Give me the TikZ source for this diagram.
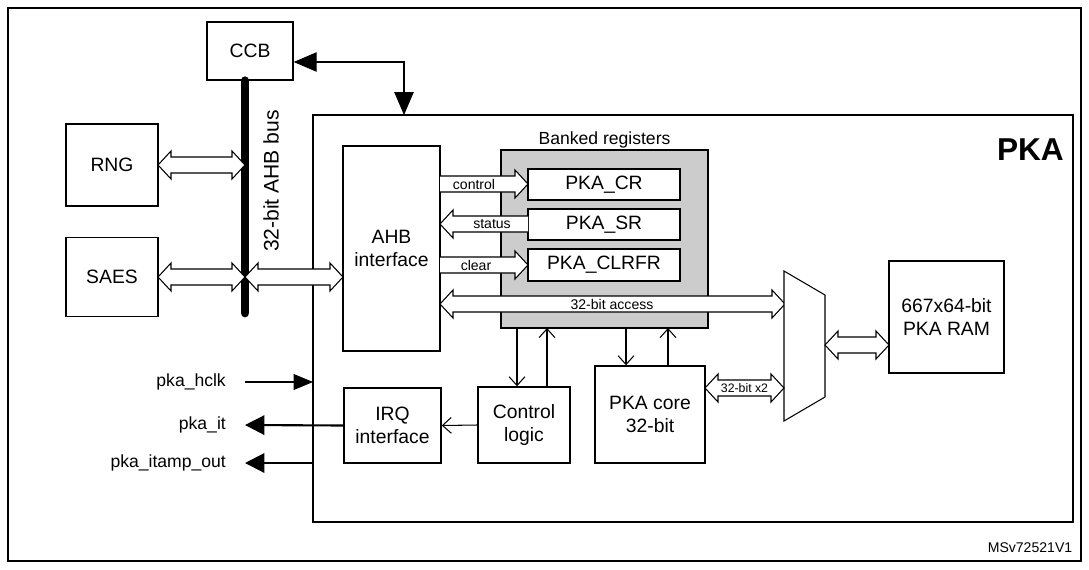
\documentclass[tikz,border=0pt]{standalone}
\usepackage{fontspec}
\setmainfont{Liberation Sans}
\usetikzlibrary{arrows.meta}
\tikzset{blk/.style={draw, thick, fill=white, align=center, inner sep=0pt, font=\fontsize{11}{13}\selectfont}}
\tikzset{l/.style={font=\fontsize{8}{9}\selectfont}}
\tikzset{sig/.style={font=\fontsize{10}{12}\selectfont}}
\tikzset{thin arrow/.style={-{Straight Barb[length=5pt,width=9pt]}, semithick}}
\tikzset{bold arrow/.style={-{Triangle[length=11pt,width=11pt]}, very thick}}
% hollow double arrow: x1, x2, y
\newcommand{\dblarrow}[3]{\draw[semithick, fill=white] (#1,#3) -- ({#1+13},{#3-14}) -- ({#1+13},{#3-8}) -- ({#2-13},{#3-8}) -- ({#2-13},{#3-14}) -- (#2,#3) -- ({#2-13},{#3+14}) -- ({#2-13},{#3+8}) -- ({#1+13},{#3+8}) -- ({#1+13},{#3+14}) -- cycle;}
% hollow single arrow: x1, x2, y
\newcommand{\fatarrow}[3]{\draw[semithick, fill=white] ({#1},{#3-8}) -- ({#2-13*(#2-#1)/abs(#2-#1)},{#3-8}) -- ({#2-13*(#2-#1)/abs(#2-#1)},{#3-14}) -- (#2,#3) -- ({#2-13*(#2-#1)/abs(#2-#1)},{#3+14}) -- ({#2-13*(#2-#1)/abs(#2-#1)},{#3+8}) -- (#1,{#3+8});}
\begin{document}
\begin{tikzpicture}[x=0.02cm, y=-0.02cm]
  \useasboundingbox (0,0) rectangle (1089,569);
  \draw[semithick] (8,8) rectangle (1081,561);
  \draw[very thick] (313,115) rectangle (1073,522);
  \node[font=\fontsize{18}{20}\selectfont\bfseries, anchor=east] (pka) at (1070,150) {PKA};

  % bus masters
  \node[blk, minimum width=86*0.02cm, minimum height=58*0.02cm] (ccb) at (250,51) {CCB};
  \node[blk, minimum width=92*0.02cm, minimum height=82*0.02cm] (rng) at (112,165) {RNG};
  \node[blk, minimum width=92*0.02cm, minimum height=79*0.02cm] (saes) at (112,277) {SAES};
  \draw[line width=5pt, line cap=round] (ccb.south -| 245,0) -- (245,313);
  \node[font=\fontsize{12}{14}\selectfont, rotate=90] (bus) at (271,181) {32-bit AHB bus};
  \coordinate (corner) at (404,62);
  \draw[{Triangle[length=13pt,width=11pt]}-{Triangle[length=13pt,width=11pt]}, semithick] (ccb.east |- corner) -- (corner) -- (404,115);
  \dblarrow{158}{245}{165}
  \dblarrow{158}{245}{277}
  \dblarrow{245}{343}{277}

  % interfaces and registers
  \node[blk, minimum width=97*0.02cm, minimum height=205*0.02cm] (ahb) at (391.5,248.5) {AHB\\interface};
  \draw[semithick, fill=black!20] (501,150) rectangle (708,328);
  \node[sig] (bank) at (604.5,140) {Banked registers};
  \node[blk, minimum width=152*0.02cm, minimum height=31*0.02cm] (cr) at (604,184.5) {PKA\_CR};
  \node[blk, minimum width=152*0.02cm, minimum height=31*0.02cm] (sr) at (604,224.5) {PKA\_SR};
  \node[blk, minimum width=152*0.02cm, minimum height=32*0.02cm] (clr) at (604,265) {PKA\_CLRFR};
  \fatarrow{440}{528}{184}
  \node[l] at (474,184) {control};
  \fatarrow{528}{440}{224}
  \node[l] at (492,224) {status};
  \fatarrow{440}{528}{265}
  \node[l] at (476,265) {clear};
  \dblarrow{440}{785}{304}
  \node[l] at (612,304) {32-bit access};

  % processing
  \draw[semithick, fill=white] (784,271) -- (825,295) -- (825,397) -- (784,421) -- cycle;
  \node[blk, minimum width=115*0.02cm, minimum height=112*0.02cm] (ram) at (946.5,317) {667x64-bit\\PKA RAM};
  \dblarrow{825}{889}{345}
  \node[blk, minimum width=97*0.02cm, minimum height=75*0.02cm] (irq) at (392.5,425.5) {IRQ\\interface};
  \node[blk, minimum width=92*0.02cm, minimum height=76*0.02cm] (ctrl) at (524,425) {Control\\logic};
  \node[blk, minimum width=110*0.02cm, minimum height=97*0.02cm] (core) at (650,414.5) {PKA core\\32-bit};
  \dblarrow{705}{784}{388}
  \node[font=\fontsize{7}{8}\selectfont] at (744.5,388) {32-bit x2};
  \draw[thin arrow] (517,328) -- (ctrl.north -| 517,0);
  \draw[thin arrow] (ctrl.north -| 547,0) -- (547,328);
  \draw[thin arrow] (626,328) -- (core.north -| 626,0);
  \draw[thin arrow] (core.north -| 668,0) -- (668,328);
  \draw[thin arrow] (ctrl.west) -- (irq.east);

  % external signals
  \node[sig, anchor=east] (hclk) at (232,382) {pka\_hclk};
  \node[sig, anchor=east] (it) at (232,425) {pka\_it};
  \node[sig, anchor=east] (itamp) at (232,463) {pka\_itamp\_out};
  \draw[-{Triangle[length=11pt,width=9pt]}, semithick] (245,382) -- (313,382);
  \draw[bold arrow] (irq.west) -- (245,425);
  \draw[bold arrow] (313,463) -- (245,463);
  \node[font=\fontsize{8}{9}\selectfont] (ref) at (1030,548) {MSv72521V1};
\end{tikzpicture}
\end{document}
